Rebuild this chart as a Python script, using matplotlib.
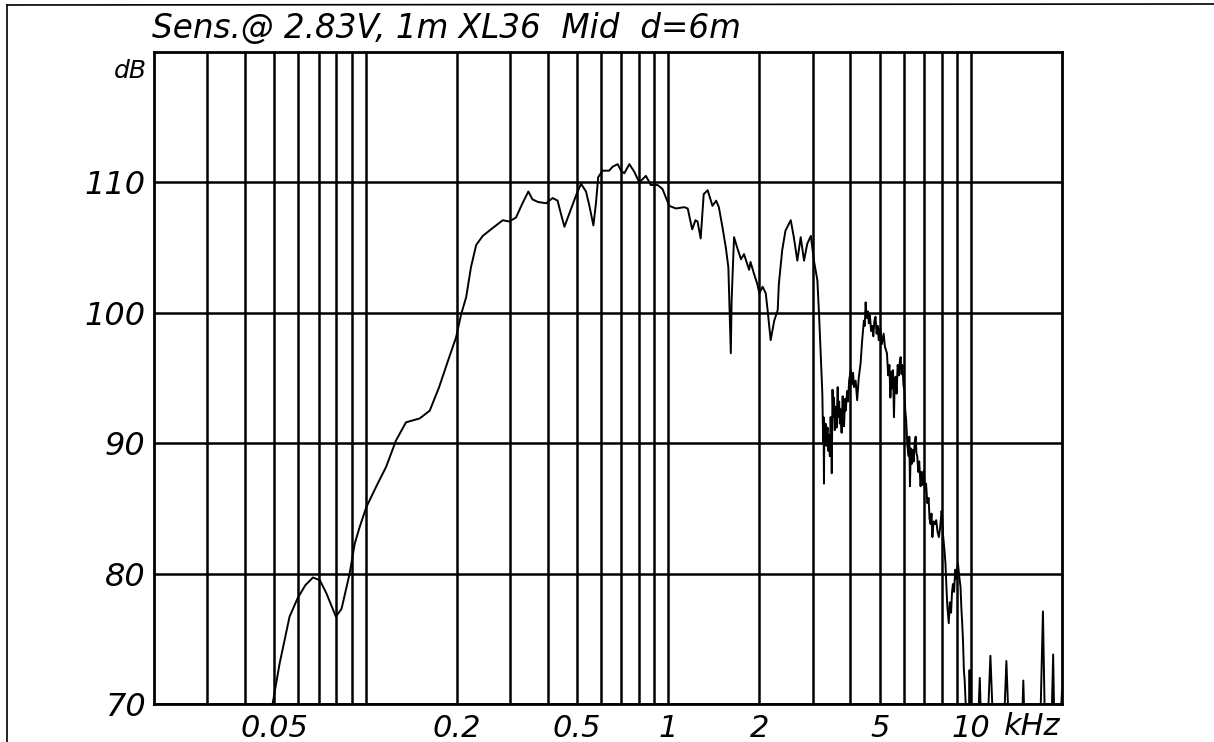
import matplotlib
matplotlib.use("Agg")
import matplotlib.pyplot as plt
from matplotlib.lines import Line2D

plt.rcParams['font.family'] = ['DejaVu Sans']
plt.rcParams['font.style'] = 'oblique'

# frequency response, kHz / dB (rows of the two lists line up)
freq_khz = [
    0.046, 0.0493, 0.052, 0.0561, 0.0596, 0.0632, 0.0670, 0.0706, 0.0742, 0.0798,
    0.0833, 0.0886, 0.0921, 0.0957, 0.1006, 0.1086, 0.117, 0.126, 0.136, 0.151,
    0.163, 0.175, 0.189, 0.199, 0.207, 0.215, 0.223, 0.232, 0.244, 0.263,
    0.284, 0.298, 0.314, 0.330, 0.345, 0.356, 0.371, 0.395, 0.415, 0.431,
    0.442, 0.454, 0.471, 0.496, 0.515, 0.535, 0.549, 0.566, 0.577, 0.587,
    0.607, 0.638, 0.655, 0.681, 0.698, 0.716, 0.744, 0.773, 0.802, 0.844,
    0.876, 0.922, 0.957, 1.008, 1.06, 1.13, 1.16, 1.20, 1.23, 1.25,
    1.28, 1.31, 1.35, 1.40, 1.44, 1.47, 1.51, 1.55, 1.58, 1.59,
    1.61, 1.62, 1.65, 1.69, 1.74, 1.78, 1.85, 1.87, 1.92, 1.97,
    2.00, 2.05, 2.10, 2.13, 2.18, 2.24, 2.30, 2.32, 2.38, 2.44,
    2.54, 2.60, 2.67, 2.74, 2.81, 2.88, 2.96, 3.03, 3.11, 3.15,
    3.23, 3.25, 3.26, 3.27, 3.28, 3.29, 3.31, 3.33, 3.36, 3.38,
    3.40, 3.42, 3.44, 3.46, 3.47, 3.49, 3.51, 3.53, 3.55, 3.58,
    3.60, 3.63, 3.65, 3.67, 3.69, 3.71, 3.74, 3.77, 3.79, 3.81,
    3.84, 3.86, 3.90, 3.93, 3.96, 4.01, 4.04, 4.08, 4.11, 4.16,
    4.21, 4.26, 4.32, 4.37, 4.43, 4.46, 4.49, 4.53, 4.57, 4.60,
    4.64, 4.68, 4.72, 4.76, 4.80, 4.84, 4.88, 4.92, 4.96, 5.02,
    5.08, 5.15, 5.20, 5.28, 5.33, 5.38, 5.42, 5.46, 5.49, 5.53,
    5.57, 5.60, 5.64, 5.68, 5.73, 5.78, 5.82, 5.86, 5.90, 5.94,
    5.99, 6.03, 6.07, 6.11, 6.17, 6.23, 6.26, 6.29, 6.33, 6.37,
    6.41, 6.47, 6.52, 6.57, 6.61, 6.65, 6.70, 6.75, 6.82, 6.87,
    6.93, 6.99, 7.05, 7.11, 7.18, 7.25, 7.30, 7.36, 7.41, 7.46,
    7.53, 7.61, 7.68, 7.76, 7.84, 7.92, 8.00, 8.04, 8.09, 8.14,
    8.19, 8.24, 8.30, 8.36, 8.45, 8.52, 8.60, 8.66, 8.72, 8.80,
    8.88, 8.95, 9.06, 9.15, 9.24, 9.30, 9.36, 9.42, 9.48, 9.54,
    9.60, 9.70, 9.85, 9.90, 9.95, 10.5, 10.7, 10.85, 11.3, 11.6,
    11.9, 12.8, 13.1, 13.4, 14.7, 14.9, 15.1, 16.9, 17.3, 17.6,
    18.4, 18.7, 18.9, 19.6, 20.0,
]
level_db = [
    67.0, 70.0, 73.1, 76.7, 78.1, 79.1, 79.7, 79.5, 78.5, 76.7,
    77.3, 80.0, 82.3, 83.6, 85.1, 86.7, 88.2, 90.2, 91.6, 91.9,
    92.5, 94.3, 96.6, 98.1, 99.9, 101.2, 103.5, 105.2, 105.9, 106.5,
    107.1, 107.0, 107.3, 108.4, 109.3, 108.7, 108.5, 108.4, 108.8, 108.6,
    107.6, 106.6, 107.6, 109.0, 109.9, 109.3, 108.2, 106.7, 108.4, 110.4,
    110.9, 110.9, 111.2, 111.4, 110.9, 110.7, 111.4, 110.8, 110.0, 110.5,
    109.8, 109.8, 109.5, 108.2, 108.0, 108.1, 108.0, 106.4, 107.1, 107.0,
    105.7, 109.1, 109.4, 108.2, 108.6, 108.1, 106.6, 105.0, 103.5, 101.2,
    96.9, 101.0, 105.8, 105.0, 104.1, 104.5, 103.3, 103.9, 103.0, 102.2,
    101.5, 102.0, 101.5, 100.2, 97.9, 99.4, 100.2, 102.2, 104.8, 106.3,
    107.1, 105.8, 104.0, 105.8, 104.0, 105.3, 105.9, 104.0, 102.5, 99.9,
    93.8, 90.0, 92.0, 86.9, 91.5, 90.0, 91.5, 89.8, 91.2, 89.4,
    90.6, 89.0, 92.0, 90.5, 87.7, 94.1, 92.0, 93.5, 91.0, 92.8,
    91.2, 94.3, 92.0, 93.2, 91.5, 92.6, 90.8, 93.6, 92.2, 91.3,
    93.4, 92.5, 94.0, 93.2, 94.8, 95.6, 94.5, 95.4, 94.3, 94.8,
    93.3, 95.0, 96.1, 97.8, 99.4, 99.0, 100.8, 99.6, 100.1, 99.2,
    99.8, 98.6, 99.0, 98.2, 99.4, 99.7, 98.4, 99.0, 97.9, 98.8,
    97.6, 98.4, 97.4, 96.9, 95.2, 96.0, 93.5, 95.5, 94.2, 95.6,
    92.0, 94.6, 95.1, 93.8, 96.0, 95.2, 96.2, 96.6, 95.3, 96.0,
    94.4, 94.1, 92.5, 91.8, 89.8, 89.0, 90.5, 86.7, 89.6, 88.4,
    89.5, 88.6, 90.0, 90.5, 89.2, 89.0, 87.8, 88.6, 86.7, 87.8,
    86.8, 87.9, 86.4, 86.9, 85.4, 85.8, 84.2, 83.8, 84.6, 82.8,
    84.0, 83.8, 84.1, 83.2, 82.8, 83.6, 84.8, 84.4, 83.0, 82.3,
    81.6, 80.8, 79.0, 77.5, 76.2, 77.8, 77.0, 78.5, 79.2, 78.6,
    80.3, 79.6, 80.8, 79.8, 79.0, 77.4, 76.2, 74.8, 72.6, 71.8,
    70.3, 67.0, 67.0, 72.6, 67.0, 67.0, 72.0, 67.0, 67.0, 73.7,
    67.0, 67.0, 73.3, 67.0, 67.0, 71.8, 67.0, 67.0, 77.1, 67.0,
    67.0, 73.8, 67.0, 67.0, 71.0,
]

grid_freqs = [0.03, 0.04, 0.05, 0.06, 0.07, 0.08, 0.09,
              0.1, 0.2, 0.3, 0.4, 0.5, 0.6, 0.7, 0.8, 0.9,
              1, 2, 3, 4, 5, 6, 7, 8, 9, 10]
freq_labels = {0.05: '0.05', 0.2: '0.2', 0.5: '0.5', 1: '1', 2: '2', 5: '5', 10: '10'}
db_ticks = [70, 80, 90, 100, 110]

W, H = 1214, 742
fig = plt.figure(figsize=(W / 100, H / 100), dpi=100)
ax = fig.add_axes([154 / W, 38 / H, 908 / W, 652 / H])

ax.plot(freq_khz, level_db, color='black', lw=1.4)

ax.set_xscale('log')
ax.set_xlim(0.02, 20)
ax.set_ylim(70, 120)
ax.set_xticks(grid_freqs)
ax.set_xticklabels([freq_labels.get(f, '') for f in grid_freqs])
ax.xaxis.set_minor_locator(plt.NullLocator())
ax.set_yticks(db_ticks)
ax.set_yticklabels([str(v) for v in db_ticks])
ax.tick_params(axis='x', length=0, pad=7, labelsize=22)
ax.tick_params(axis='y', length=0, pad=6, labelsize=23)
ax.grid(True, color='black', lw=1.8)
for sp in ax.spines.values():
    sp.set_linewidth(2)

fig.text(1004 / W, 1 - 712 / H, 'kHz', ha='left', va='top', fontsize=22)
fig.text(147 / W, 1 - 78 / H, 'dB', ha='right', va='baseline', fontsize=18)
fig.text(152 / W, 1 - 38.5 / H, 'Sens.@ 2.83V, 1m XL36  Mid  d=6m',
         ha='left', va='baseline', fontsize=23.5)

# outer frame
fig.add_artist(Line2D([7 / W, 7 / W], [0, 1 - 5 / H], transform=fig.transFigure,
                      color='black', lw=1.2))
fig.add_artist(Line2D([7 / W, 1], [1 - 5 / H, 1 - 4 / H], transform=fig.transFigure,
                      color='black', lw=1.2))

fig.savefig('out.png', dpi=100)
